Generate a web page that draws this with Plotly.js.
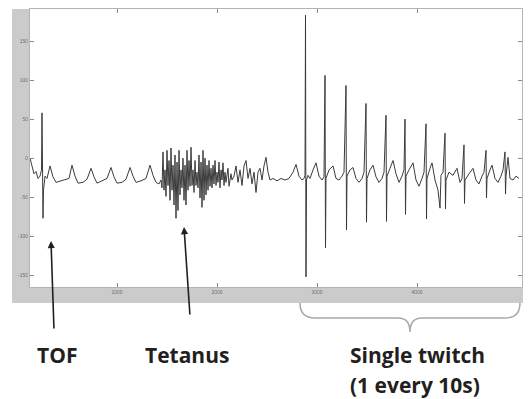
<!DOCTYPE html>
<html>
<head>
<meta charset="utf-8">
<script src="https://cdn.plot.ly/plotly-3.0.1.min.js"></script>
<style>
  html, body { margin: 0; padding: 0; background: #ffffff; }
  #chart { width: 528px; height: 399px; }
</style>
</head>
<body>
<div id="chart"></div>
<script>
// ---- data ----
// time axis (arbitrary sample units) and signal amplitude
const timeVals = [
  130,150,170,190,210,230,245,250,255,260,265,280,300,330,360,390,440,490,520,550,580,610,660,700,740,770,800,850,900,940,970,1000,1050,1090,1130,1160,1190,1240,1290,1330,1360,1390,1420,1440,
  1450,1460,1470,1480,1490,1500,1510,1520,1530,1540,1550,1560,1570,1580,1590,1600,1610,1620,1630,1640,1650,1660,1670,1680,1690,1700,1710,1720,1730,1740,1750,1760,1770,1780,1790,1800,1810,1820,1830,1840,1850,1860,1870,1880,1890,1900,1910,1920,1930,1940,1950,1960,1970,1980,1990,2000,2010,2020,2030,2040,2050,2060,2070,2080,2090,2110,2120,2140,2150,
  2170,2190,2210,2230,2250,2270,2290,2310,2330,2350,2370,2390,2410,2430,2450,2470,2490,2510,2530,2560,2600,2640,2680,2720,2760,2790,2820,2850,2870,
  2880,2885,2890,2895,2910,2930,2960,2990,3020,3050,3070,
  3080,3085,3090,3120,3160,3190,3220,3250,3270,
  3290,3295,3300,3330,3360,3390,3420,3450,3470,
  3490,3495,3500,3530,3560,3590,3620,3650,3670,
  3690,3695,3700,3730,3760,3790,3820,3850,3870,
  3880,3885,3890,3920,3960,3990,4020,4050,4070,
  4090,4095,4100,4130,4150,4180,4210,4230,4240,4260,
  4280,4285,4290,4320,4360,4400,4430,4450,
  4470,4475,4480,4520,4560,4590,4620,4650,4670,
  4690,4695,4700,4730,4750,4780,4810,4840,4860,
  4880,4885,4890,4910,4930,4960,4990,5020
];
const signalVals = [
  0,-10,-20,-17,-26,-23,-15,58,-54,-77,-41,-23,-26,-10,-24,-31,-29,-27,-26,-9,-23,-32,-31,-27,-13,-24,-32,-29,-26,-12,-24,-32,-31,-27,-12,-23,-31,-29,-26,-9,-22,-31,-33,-28,
  -38,8,-41,-15,-49,10,-35,-3,-54,13,-41,-9,-60,4,-77,-5,-67,10,-47,-15,-38,0,-54,-9,-60,10,-41,-3,-36,14,-35,-15,-44,-3,-35,-18,-38,4,-51,-5,-63,10,-54,0,-47,-9,-41,-3,-36,-13,-38,-9,-33,-3,-35,-18,-31,-5,-38,-15,-28,-6,-35,-18,-31,-13,-36,-20,-28,
  -23,-10,-31,-15,-35,-10,-3,-26,-13,-33,-18,-44,-18,-13,-28,-10,1,-18,-28,-26,-29,-26,-28,-26,-18,-8,-23,-28,-26,
  -22,183,-152,-28,-22,-26,-15,-6,-23,-28,-24,
  106,-115,-26,-15,-10,-26,-28,-23,-18,
  93,-92,-23,-15,-12,-26,-31,-26,-18,
  70,-82,-26,-15,-9,-24,-31,-26,-18,
  55,-81,-23,-13,-3,-20,-31,-23,-15,
  50,-72,-23,-15,-6,-28,-36,-26,-18,
  44,-78,-26,-13,-6,-28,-41,-64,-22,-18,
  32,-65,-28,-18,-22,-13,-31,-26,
  17,-58,-28,-20,-13,-28,-33,-23,-18,
  10,-51,-26,-15,-9,-26,-31,-23,-15,
  8,-46,-23,1,-26,-28,-23,-26
];
const xTickVals = [1000, 2000, 3000, 4000];
const xTickText = ['1000', '2000', '3000', '4000'];
const yTickVals = [150, 100, 50, 0, -50, -100, -150];
const yTickText = ['150', '100', '50', '0', '-50', '-100', '-150'];
const labelTOF = 'TOF';
const labelTetanus = 'Tetanus';
const labelTwitch1 = 'Single twitch';
const labelTwitch2 = '(1 every 10s)';

// ---- layout helpers (pixel -> paper fraction) ----
const W = 528, H = 399;
const M = {l: 30, r: 6, t: 9, b: 112};
const PW = W - M.l - M.r, PH = H - M.t - M.b;
const px = v => (v - M.l) / PW;
const py = v => (H - M.b - v) / PH;

const grey = '#cbcbcb';
const shapes = [
  {type: 'rect', xref: 'paper', yref: 'paper', layer: 'below',
   x0: px(12), x1: px(30), y0: py(303), y1: py(9), fillcolor: grey, line: {width: 0}},
  {type: 'rect', xref: 'paper', yref: 'paper', layer: 'below',
   x0: px(12), x1: px(523), y0: py(303), y1: py(287), fillcolor: grey, line: {width: 0}}
];
// curly brace under the single-twitch section
const bracePts = [
  ['M', 300, 303], ['Q', 300, 318, 315, 318], ['L', 398, 318], ['Q', 410, 318, 410, 332],
  ['Q', 410, 318, 422, 318], ['L', 505, 318], ['Q', 520, 318, 520, 303]
];
const bracePath = bracePts.map(p => {
  let s = p[0];
  for (let i = 1; i < p.length; i += 2) s += ' ' + px(p[i]).toFixed(5) + ',' + py(p[i + 1]).toFixed(5);
  return s;
}).join(' ');
shapes.push({type: 'path', xref: 'paper', yref: 'paper', path: bracePath,
  line: {color: '#a8a8a8', width: 1.5}});

const txtFont = {family: 'Open Sans, Noto Sans, sans-serif', size: 21, color: '#231f20', weight: 'bold'};
const txt = (x, y, t) => ({xref: 'paper', yref: 'paper', x: px(x), y: py(y), text: t,
  showarrow: false, font: txtFont, xanchor: 'center', yanchor: 'middle'});
const annotations = [
  {xref: 'paper', yref: 'paper', x: px(51), y: py(241), text: '', showarrow: true,
   ax: 3, ay: 89, arrowhead: 2, arrowsize: 0.9, arrowwidth: 1.6, arrowcolor: '#231f20', standoff: 0},
  {xref: 'paper', yref: 'paper', x: px(184), y: py(227), text: '', showarrow: true,
   ax: 6, ay: 89, arrowhead: 2, arrowsize: 0.9, arrowwidth: 1.6, arrowcolor: '#231f20', standoff: 0},
  txt(57, 355, labelTOF),
  txt(187, 355, labelTetanus),
  txt(417, 355, labelTwitch1),
  txt(415, 385, labelTwitch2)
];

const trace = {
  x: timeVals, y: signalVals, type: 'scatter', mode: 'lines',
  line: {color: '#3a3a3a', width: 1}, hoverinfo: 'skip'
};

const axisCommon = {
  showgrid: false, zeroline: false, showline: true, linecolor: '#b4b4b4', linewidth: 1,
  mirror: 'ticks', ticks: 'inside', ticklen: 4, tickcolor: '#8a8a8a', tickwidth: 1,
  tickfont: {family: 'Liberation Sans, sans-serif', size: 5, color: '#707070'}, fixedrange: true
};

const layout = {
  width: W, height: H, margin: M, showlegend: false,
  paper_bgcolor: '#ffffff', plot_bgcolor: '#ffffff',
  xaxis: Object.assign({}, axisCommon, {range: [130, 5050], tickmode: 'array',
    tickvals: xTickVals, ticktext: xTickText}),
  yaxis: Object.assign({}, axisCommon, {range: [-165, 191], tickmode: 'array',
    tickvals: yTickVals, ticktext: yTickText}),
  shapes: shapes, annotations: annotations, hovermode: false
};

// soften the trace like the scanned original
function addSoftFilter() {
  const NS = 'http://www.w3.org/2000/svg';
  const svg = document.querySelector('#chart .main-svg');
  if (!svg) return;
  let defs = svg.querySelector('defs');
  if (!defs) { defs = document.createElementNS(NS, 'defs'); svg.insertBefore(defs, svg.firstChild); }
  const mk = (id, sd) => {
    const f = document.createElementNS(NS, 'filter');
    f.setAttribute('id', id);
    f.setAttribute('x', '-50%'); f.setAttribute('y', '-50%');
    f.setAttribute('width', '200%'); f.setAttribute('height', '200%');
    const g = document.createElementNS(NS, 'feGaussianBlur');
    g.setAttribute('stdDeviation', String(sd));
    f.appendChild(g);
    defs.appendChild(f);
  };
  mk('softLine', 0.6);
  mk('softText', 0.3);
  document.querySelectorAll('#chart .scatterlayer path').forEach(p => p.setAttribute('filter', 'url(#softLine)'));
  document.querySelectorAll('#chart .xtick text, #chart .ytick text').forEach(t => t.setAttribute('filter', 'url(#softText)'));
}

Plotly.newPlot('chart', [trace], layout, {displayModeBar: false, staticPlot: true}).then(addSoftFilter);
</script>
</body>
</html>
